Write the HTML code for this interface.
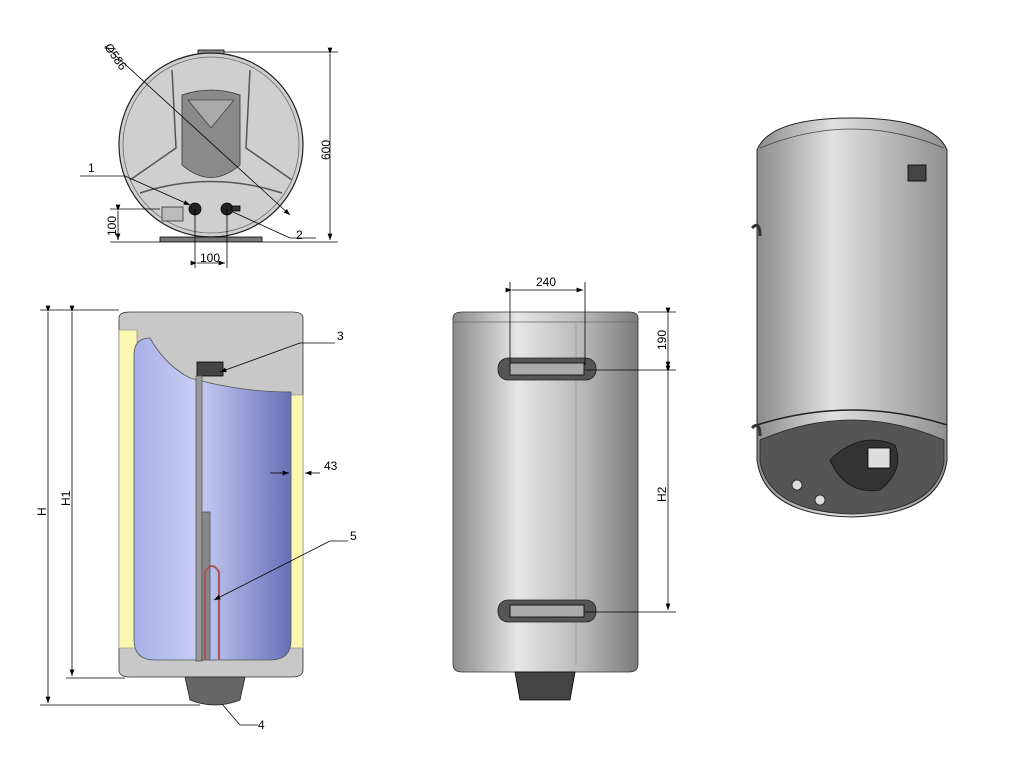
<!DOCTYPE html>
<html><head><meta charset="utf-8"><style>html,body{margin:0;padding:0;background:#fff}svg{display:block}text{font-family:"Liberation Sans",sans-serif;font-size:12px;fill:#000}</style></head><body>
<svg width="1012" height="757" viewBox="0 0 1012 757" xmlns="http://www.w3.org/2000/svg">
<defs>
<linearGradient id="cyl" x1="0" x2="1"><stop offset="0" stop-color="#8a8a8a"/><stop offset="0.35" stop-color="#e6e6e6"/><stop offset="0.7" stop-color="#b8b8b8"/><stop offset="1" stop-color="#7a7a7a"/></linearGradient>
<linearGradient id="cyl2" x1="0" x2="1"><stop offset="0" stop-color="#8c8c8c"/><stop offset="0.4" stop-color="#e0e0e0"/><stop offset="1" stop-color="#909090"/></linearGradient>
<linearGradient id="blue" x1="0" x2="1"><stop offset="0" stop-color="#a8b0e8"/><stop offset="0.4" stop-color="#c8cdf4"/><stop offset="1" stop-color="#6870b8"/></linearGradient>
<marker id="ar" markerWidth="8" markerHeight="6" refX="8" refY="3" orient="auto"><path d="M0,0 L8,3 L0,6z" fill="#000"/></marker>
</defs>
<g stroke="#000" stroke-width="0.8" fill="none">
<!-- TOP VIEW -->
<rect x="198" y="50" width="26" height="5" fill="#888"/>
<circle cx="211" cy="145" r="92" fill="#cfcfcf" stroke="#222" stroke-width="1.2"/>
<circle cx="211" cy="145" r="88" stroke="#666"/>
<path d="M182,95 Q211,85 240,95 L240,165 Q211,190 182,165 Z" fill="#8a8a8a" stroke="#333"/>
<path d="M188,100 L234,100 L211,128 Z" fill="#aaa" stroke="#444"/>
<path d="M172,70 L176,148 L130,180 M250,70 L246,148 L292,180 M140,193 Q211,170 282,193" stroke="#555" stroke-width="1.5"/>
<rect x="162" y="207" width="21" height="14" fill="#bbb" stroke="#333"/>
<circle cx="195" cy="209" r="6" fill="#222"/>
<circle cx="227" cy="209" r="6" fill="#222"/>
<rect x="232" y="206" width="8" height="5" fill="#333"/>
<rect x="160" y="237" width="102" height="5" fill="#777"/>
<line x1="105" y1="46" x2="290" y2="215" marker-end="url(#ar)"/>
<line x1="224" y1="52" x2="338" y2="52"/><line x1="262" y1="242" x2="338" y2="242"/>
<line x1="330" y1="54" x2="330" y2="240" marker-start="url(#ar)" marker-end="url(#ar)"/>
<line x1="110" y1="209" x2="160" y2="209"/><line x1="110" y1="242" x2="160" y2="242"/>
<line x1="118" y1="211" x2="118" y2="240" marker-start="url(#ar)" marker-end="url(#ar)"/>
<line x1="195" y1="209" x2="195" y2="268"/><line x1="227" y1="209" x2="227" y2="268"/>
<line x1="197" y1="263" x2="225" y2="263" marker-start="url(#ar)" marker-end="url(#ar)"/>
<line x1="80" y1="176" x2="125" y2="176"/><line x1="125" y1="176" x2="190" y2="205" marker-end="url(#ar)"/>
<line x1="290" y1="238" x2="316" y2="238"/><line x1="290" y1="238" x2="233" y2="212"/>
<!-- FRONT CUTAWAY -->
<path d="M119,318 Q119,312 130,312 L292,312 Q303,312 303,318 L303,670 Q303,677 292,677 L130,677 Q119,677 119,670 Z" fill="#c8c8c8" stroke="#333"/>
<path d="M119,330 L137,330 L137,648 L119,648 Z" fill="#fbf6b0" stroke="#999"/>
<path d="M290,395 L303,395 L303,648 L290,648 Z" fill="#fbf6b0" stroke="#999"/>
<path d="M134,355 Q134,338 150,338 Q165,365 190,378 Q240,392 291,392 L291,640 Q291,660 270,660 L155,660 Q134,660 134,640 Z" fill="url(#blue)" stroke="#555"/>
<rect x="197" y="362" width="26" height="14" fill="#444"/>
<rect x="196" y="376" width="6" height="285" fill="#999" stroke="#555"/>
<rect x="202" y="512" width="8" height="148" fill="#888" stroke="#555"/>
<path d="M205,660 L205,572 Q212,560 219,572 L219,660" stroke="#a55" stroke-width="2"/>
<path d="M185,677 L245,677 L240,700 Q215,710 190,700 Z" fill="#666" stroke="#222"/>
<line x1="40" y1="310" x2="119" y2="310"/><line x1="40" y1="705" x2="200" y2="705"/><line x1="66" y1="678" x2="125" y2="678"/>
<line x1="48" y1="312" x2="48" y2="703" marker-start="url(#ar)" marker-end="url(#ar)"/>
<line x1="72" y1="312" x2="72" y2="676" marker-start="url(#ar)" marker-end="url(#ar)"/>
<line x1="335" y1="343" x2="300" y2="343"/><line x1="300" y1="343" x2="220" y2="372" marker-end="url(#ar)"/>
<line x1="348" y1="541" x2="330" y2="541"/><line x1="330" y1="541" x2="214" y2="600" marker-end="url(#ar)"/>
<line x1="320" y1="473" x2="305" y2="473" marker-end="url(#ar)"/><line x1="270" y1="473" x2="289" y2="473" marker-end="url(#ar)"/>
<line x1="258" y1="725" x2="240" y2="725"/><line x1="240" y1="725" x2="222" y2="704"/>
<!-- BACK VIEW -->
<path d="M453,318 Q453,312 462,312 L629,312 Q638,312 638,318 L638,664 Q638,672 629,672 L462,672 Q453,672 453,664 Z" fill="url(#cyl)" stroke="#333"/>
<line x1="453" y1="322" x2="638" y2="322" stroke="#666"/><line x1="576" y1="322" x2="576" y2="665" stroke="#999"/>
<rect x="498" y="358" width="98" height="22" rx="10" fill="#555" stroke="#222"/>
<rect x="510" y="363" width="74" height="12" fill="#aaa"/>
<rect x="498" y="600" width="98" height="22" rx="10" fill="#555" stroke="#222"/>
<rect x="510" y="605" width="74" height="12" fill="#aaa"/>
<path d="M515,672 L575,672 L570,700 L520,700 Z" fill="#444"/>
<line x1="510" y1="282" x2="510" y2="365"/><line x1="585" y1="282" x2="585" y2="365"/>
<line x1="512" y1="290" x2="583" y2="290" marker-start="url(#ar)" marker-end="url(#ar)"/>
<line x1="638" y1="312" x2="676" y2="312"/><line x1="585" y1="370" x2="676" y2="370"/><line x1="585" y1="612" x2="676" y2="612"/>
<line x1="668" y1="314" x2="668" y2="368" marker-start="url(#ar)" marker-end="url(#ar)"/>
<line x1="668" y1="372" x2="668" y2="610" marker-start="url(#ar)" marker-end="url(#ar)"/>
<!-- 3D VIEW -->
<path d="M757,150 Q770,118 852,118 Q934,118 947,150 L947,460 Q940,515 852,517 Q764,515 757,460 Z" fill="url(#cyl2)" stroke="#222" stroke-width="1"/>
<path d="M760,148 Q852,110 944,148" stroke="#444"/>
<path d="M757,425 Q852,395 947,425" stroke="#222" stroke-width="1.5"/>
<path d="M760,440 Q852,400 944,440 L944,462 Q935,512 852,514 Q770,512 760,462 Z" fill="#555" stroke="#222"/>
<path d="M830,460 Q860,430 895,445 Q905,470 880,490 Q845,495 830,460 Z" fill="#333" stroke="#111"/>
<rect x="868" y="448" width="22" height="20" fill="#ddd"/>
<rect x="908" y="165" width="18" height="16" fill="#444"/>
<circle cx="797" cy="485" r="5" fill="#ddd" stroke="#222"/>
<circle cx="820" cy="500" r="5" fill="#ddd" stroke="#222"/>
<path d="M752,228 q8,-8 8,8 M752,428 q8,-8 8,8" stroke="#333" stroke-width="3"/>
</g>
<text x="104" y="47" transform="rotate(55 104 47)">Ø586</text>
<text x="330" y="160" transform="rotate(-90 330 160)">600</text>
<text x="116" y="236" transform="rotate(-90 116 236)">100</text>
<text x="200" y="262">100</text>
<text x="88" y="172">1</text>
<text x="296" y="239">2</text>
<text x="337" y="340">3</text>
<text x="324" y="470">43</text>
<text x="350" y="540">5</text>
<text x="258" y="729">4</text>
<text x="46" y="516" transform="rotate(-90 46 516)">H</text>
<text x="70" y="506" transform="rotate(-90 70 506)">H1</text>
<text x="536" y="286">240</text>
<text x="666" y="350" transform="rotate(-90 666 350)">190</text>
<text x="666" y="502" transform="rotate(-90 666 502)">H2</text>
</svg>
</body></html>
